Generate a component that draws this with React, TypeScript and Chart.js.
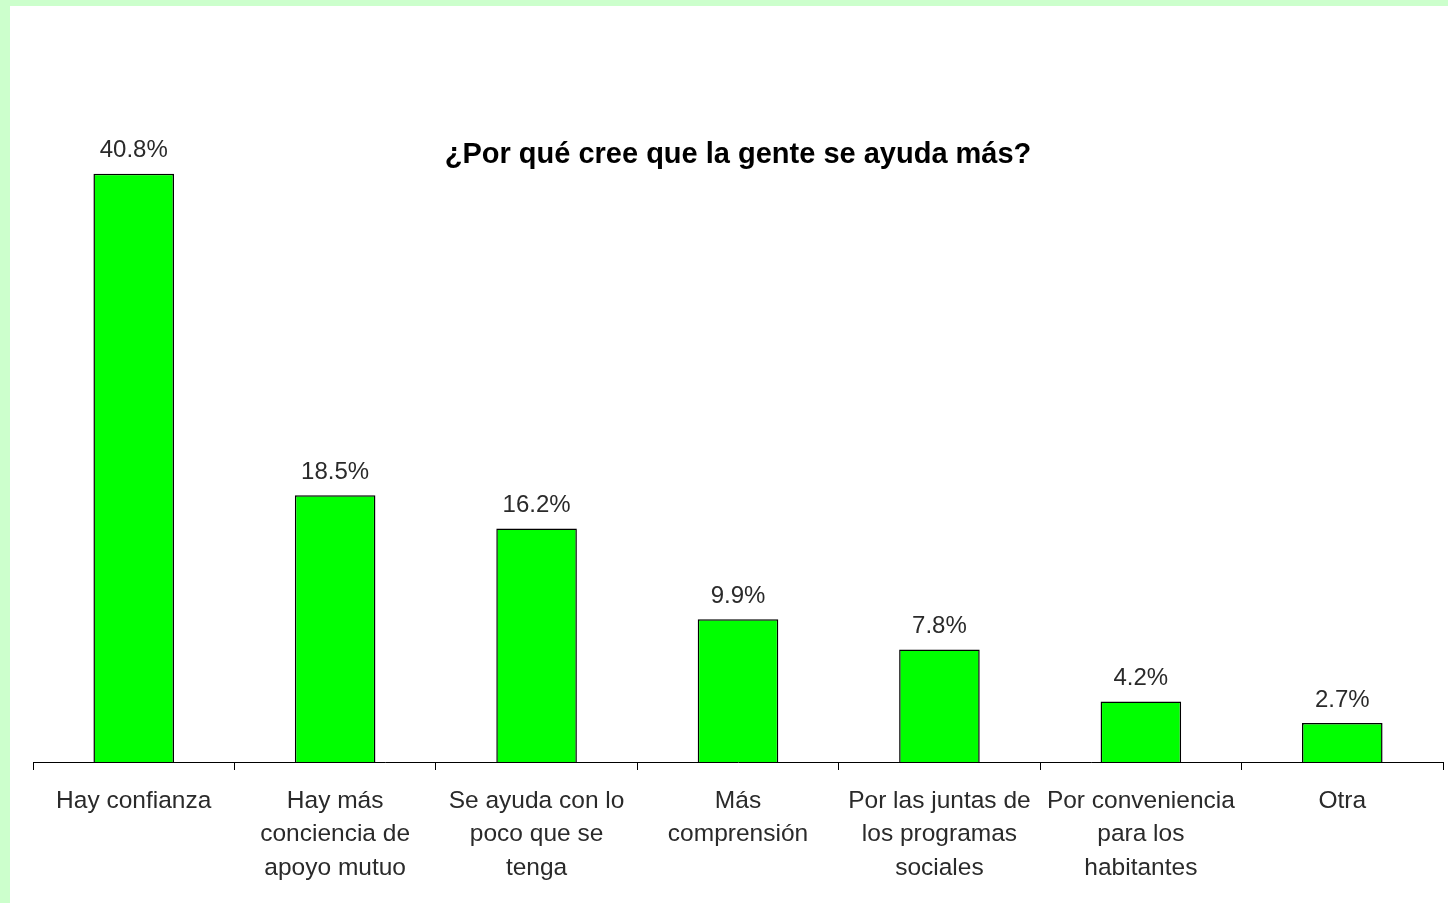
import React, { useEffect, useRef } from "react";
import { Chart, registerables } from "chart.js";

Chart.register(...registerables);

const TITLE = "¿Por qué cree que la gente se ayuda más?";
const CATEGORIES: string[][] = [
  ["Hay confianza"],
  ["Hay más", "conciencia de", "apoyo mutuo"],
  ["Se ayuda con lo", "poco que se", "tenga"],
  ["Más", "comprensión"],
  ["Por las juntas de", "los programas", "sociales"],
  ["Por conveniencia", "para los", "habitantes"],
  ["Otra"],
];
const VALUES: number[] = [40.8, 18.5, 16.2, 9.9, 7.8, 4.2, 2.7];
const VALUE_LABELS: string[] = ["40.8%", "18.5%", "16.2%", "9.9%", "7.8%", "4.2%", "2.7%"];

const FONT = "Arial, 'Liberation Sans', sans-serif";

export default function App() {
  const ref = useRef<HTMLCanvasElement | null>(null);

  useEffect(() => {
    if (!ref.current) return;
    const overlay = {
      id: "overlay",
      afterDatasetsDraw(chart: any) {
        const ctx = chart.ctx;
        const meta = chart.getDatasetMeta(0);
        ctx.save();
        ctx.fillStyle = "#2a2a2a";
        ctx.font = `24px ${FONT}`;
        ctx.textAlign = "center";
        ctx.textBaseline = "middle";
        meta.data.forEach((bar: any, i: number) => {
          ctx.fillText(VALUE_LABELS[i], bar.x, bar.y - 23);
        });
        const ca = chart.chartArea;
        ctx.fillStyle = "#000";
        ctx.font = `bold 29px ${FONT}`;
        ctx.fillText(TITLE, (ca.left + ca.right) / 2, 149);
        ctx.restore();
      },
    };
    const chart = new Chart(ref.current, {
      type: "bar",
      data: {
        labels: CATEGORIES,
        datasets: [
          {
            data: VALUES,
            backgroundColor: "#00ff00",
            borderColor: "#000",
            borderWidth: 1.5,
            barPercentage: 0.4,
            categoryPercentage: 1,
          },
        ],
      },
      options: {
        animation: false,
        responsive: false,
        maintainAspectRatio: false,
        layout: { padding: { left: 23, right: 5, top: 64, bottom: 0 } },
        plugins: {
          legend: { display: false },
          tooltip: { enabled: false },
          title: { display: false },
        },
        scales: {
          y: { display: false, min: 0, max: 48 },
          x: {
            afterFit: (scale: any) => {
              scale.height = 141;
            },
            border: { display: true, color: "#000", width: 1 },
            grid: {
              offset: true,
              drawOnChartArea: false,
              drawTicks: true,
              tickLength: 8,
              color: "#000",
              lineWidth: 1,
            },
            ticks: {
              color: "#2a2a2a",
              padding: 14,
              maxRotation: 0,
              autoSkip: false,
              font: { family: FONT, size: 24.5, lineHeight: 1.37 },
            },
          },
        },
      },
      plugins: [overlay],
    });
    return () => chart.destroy();
  }, []);

  return (
    <div style={{ position: "absolute", left: 0, top: 0, width: 1448, height: 903, background: "#ccffcc" }}>
      <div style={{ position: "absolute", left: 10, top: 6, width: 1438, height: 897, background: "#fff" }}>
        <canvas ref={ref} width={1438} height={897} style={{ display: "block", width: 1438, height: 897 }} />
      </div>
    </div>
  );
}
